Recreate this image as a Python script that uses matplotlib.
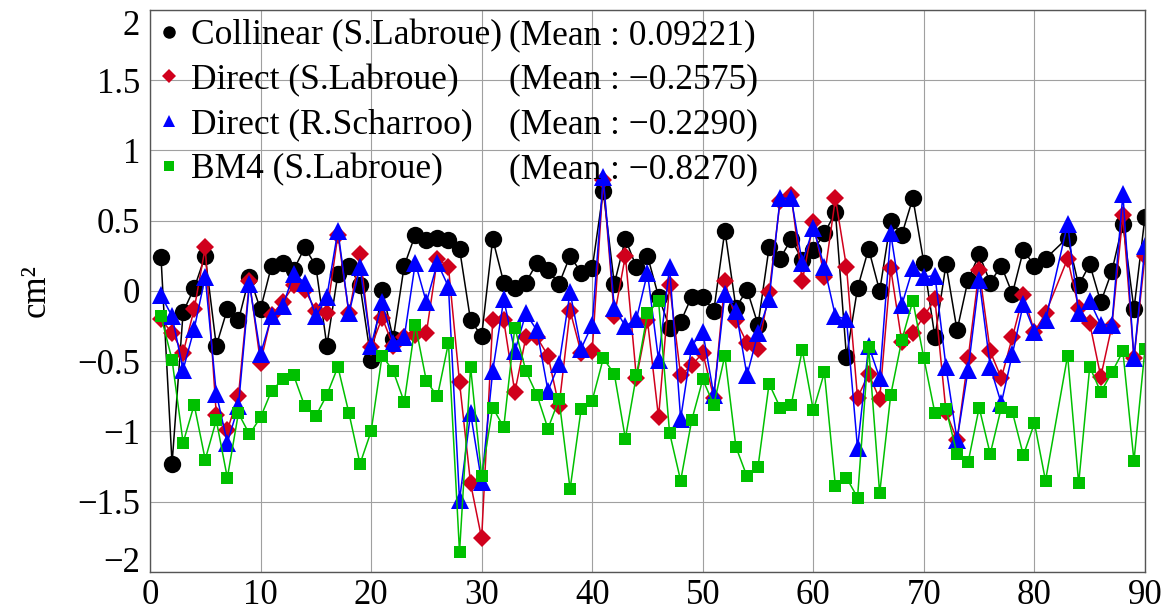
import matplotlib
matplotlib.use("Agg")
import matplotlib.pyplot as plt
from matplotlib.lines import Line2D

# cycle numbers (cycle 82 missing in all series)
cycles = list(range(1, 82)) + list(range(83, 91))

collinear_sl = [0.24, -1.23, -0.15, 0.02, 0.25, -0.39, -0.13, -0.21, 0.10, -0.13,
                0.18, 0.20, 0.15, 0.31, 0.18, -0.39, 0.12, 0.18, 0.04, -0.49,
                0.01, -0.34, 0.18, 0.40, 0.36, 0.38, 0.36, 0.30, -0.21, -0.32,
                0.37, 0.06, 0.02, 0.06, 0.20, 0.15, 0.05, 0.25, 0.13, 0.16,
                0.71, 0.05, 0.37, 0.17, 0.25, -0.04, -0.26, -0.22, -0.04, -0.04,
                -0.14, 0.43, -0.12, 0.01, -0.24, 0.31, 0.23, 0.37, 0.22, 0.29,
                0.41, 0.56, -0.47, 0.02, 0.30, 0.00, 0.50, 0.40, 0.66, 0.20,
                -0.33, 0.19, -0.28, 0.08, 0.26, 0.06, 0.18, -0.02, 0.29, 0.18,
                0.23, 0.38, 0.04, 0.19, -0.08, 0.14, 0.48, -0.13, 0.53]

direct_sl = [-0.20, -0.30, -0.44, -0.13, 0.31, -0.88, -0.99, -0.75, 0.07, -0.51,
             -0.17, -0.08, 0.04, 0.01, -0.14, -0.16, 0.40, -0.16, 0.26, -0.40,
             -0.19, -0.39, -0.33, -0.31, -0.30, 0.23, 0.17, -0.65, -1.37, -1.76,
             -0.21, -0.21, -0.72, -0.33, -0.33, -0.46, -0.82, -0.14, -0.44, -0.43,
             0.79, -0.18, 0.25, -0.62, -0.21, -0.90, 0.04, -0.60, -0.53, -0.44,
             -0.76, 0.07, -0.21, -0.37, -0.41, -0.01, 0.64, 0.68, 0.07, 0.49,
             0.10, 0.66, 0.17, -0.76, -0.59, -0.77, 0.16, -0.36, -0.30, -0.18,
             -0.06, -0.86, -1.06, -0.48, 0.15, -0.43, -0.62, -0.33, -0.03, -0.29,
             -0.16, 0.23, -0.12, -0.23, -0.61, -0.25, 0.54, -0.48, 0.25]

direct_rs = [-0.03, -0.18, -0.56, -0.27, 0.10, -0.73, -1.08, -0.82, 0.05, -0.45,
             -0.18, -0.11, 0.12, 0.06, -0.18, -0.04, 0.43, -0.16, 0.17, -0.39,
             -0.08, -0.37, -0.33, 0.20, -0.08, 0.20, 0.03, -1.49, -0.87, -1.36,
             -0.57, -0.06, -0.43, -0.16, -0.28, -0.71, -0.52, -0.01, -0.41, -0.24,
             0.81, -0.12, -0.25, -0.20, 0.13, -0.49, 0.17, -0.91, -0.39, -0.29,
             -0.74, -0.02, -0.14, -0.60, -0.30, -0.06, 0.66, 0.66, 0.20, 0.45,
             0.17, -0.18, -0.20, -1.12, -0.39, -0.62, 0.41, -0.10, 0.16, 0.10,
             0.11, -0.54, -1.06, -0.56, 0.08, -0.54, -0.80, -0.45, -0.09, -0.29,
             -0.21, 0.48, -0.16, -0.07, -0.24, -0.24, 0.69, -0.48, 0.32]

bm4_sl = [-0.18, -0.49, -1.08, -0.81, -1.20, -0.92, -1.33, -0.87, -1.02, -0.90,
          -0.71, -0.63, -0.60, -0.82, -0.89, -0.74, -0.54, -0.87, -1.23, -1.00,
          -0.46, -0.57, -0.79, -0.24, -0.64, -0.75, -0.37, -1.86, -0.54, -1.32,
          -0.83, -0.97, -0.26, -0.57, -0.74, -0.98, -0.77, -1.41, -0.84, -0.78,
          -0.48, -0.59, -1.05, -0.60, -0.16, -0.07, -1.01, -1.35, -0.92, -0.63,
          -0.81, -0.46, -1.11, -1.32, -1.25, -0.66, -0.83, -0.81, -0.42, -0.85,
          -0.58, -1.39, -1.33, -1.47, -0.40, -1.44, -0.74, -0.35, -0.07, -0.48,
          -0.87, -0.84, -1.16, -1.22, -0.83, -1.16, -0.83, -0.86, -1.17, -0.94,
          -1.35, -0.46, -1.37, -0.54, -0.72, -0.58, -0.43, -1.21, -0.41]

names = ["Collinear (S.Labroue)", "Direct (S.Labroue)",
         "Direct (R.Scharroo)", "BM4 (S.Labroue)"]
means = ["(Mean : 0.09221)", "(Mean : \u22120.2575)",
         "(Mean : \u22120.2290)", "(Mean : \u22120.8270)"]

xticks = [0, 10, 20, 30, 40, 50, 60, 70, 80, 90]
yticks = [-2, -1.5, -1, -0.5, 0, 0.5, 1, 1.5, 2]
ytick_labels = ["\u22122", "\u22121.5", "\u22121", "\u22120.5", "0", "0.5", "1", "1.5", "2"]

plt.rcParams['font.family'] = ['Liberation Serif', 'DejaVu Serif']
plt.rcParams['font.size'] = 25

fig = plt.figure(figsize=(11.66, 6.12), dpi=100)
ax = fig.add_axes([0.1286, 0.0654, 0.8534, 0.9183])

series = [
    (collinear_sl, "black", "o", 12.5, 9),
    (direct_sl, "#d0001c", "D", 9.5, 7),
    (direct_rs, "#0000ff", "^", 12.5, 9),
    (bm4_sl, "#00c000", "s", 9, 7),
]
leg_handles = []
for vals, col, mk, ms, lms in series:
    ax.plot(cycles, vals, color=col, marker=mk, markersize=ms,
            linewidth=1.1, markeredgewidth=0)
    leg_handles.append(Line2D([], [], linestyle="none", marker=mk, color=col,
                              markersize=lms, markeredgewidth=0))

ax.set_xlim(0, 90)
ax.set_ylim(-2, 2)
ax.set_xticks(xticks)
ax.set_yticks(yticks)
ax.set_yticklabels(ytick_labels)
ax.tick_params(length=0, pad=7)
ax.tick_params(axis="x", pad=5)
ax.grid(True, color="#a0a0a0", linewidth=0.8)
ax.set_axisbelow(True)
for sp in ax.spines.values():
    sp.set_color("#555555")
    sp.set_linewidth(1.0)

# keep the end labels inside the axes height, as in the original
ylabs = ax.get_yticklabels()
ylabs[-1].set_verticalalignment("top")
ylabs[0].set_verticalalignment("baseline")

ax.set_ylabel("cm\u00b2", labelpad=18)

blank = [Line2D([], [], linestyle="none", marker=None) for _ in means]
ax.legend(leg_handles + blank, names + means, ncol=2, loc="upper left",
          frameon=False, handlelength=0.6, handletextpad=0.3,
          columnspacing=-0.7, labelspacing=0.33, borderaxespad=0.25,
          borderpad=0.0, fontsize=25.5)

fig.savefig("out.png", dpi=100)
